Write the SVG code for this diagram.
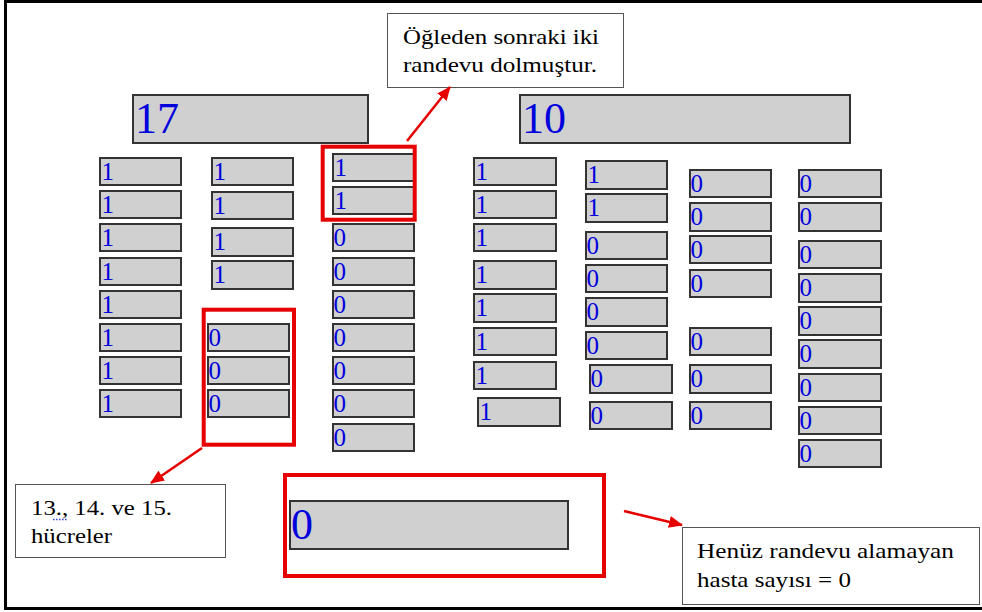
<svg xmlns="http://www.w3.org/2000/svg" width="982" height="612" viewBox="0 0 982 612">
<style>
.cell{fill:#d0d0d0;stroke:#333;stroke-width:2}
.big{fill:#d0d0d0;stroke:#333;stroke-width:2}
.d{font-size:25px;fill:#0000dd}
.bd{font-size:44px;fill:#0000dd}
.red{fill:none;stroke:#e60000;stroke-width:4}
.call{fill:#fff;stroke:#555;stroke-width:1}
.ct{font-size:22px;fill:#000}
.arr{stroke:#e60000;stroke-width:2.5;fill:none;marker-end:url(#ah)}
</style>
<defs>
<marker id="ah" markerUnits="userSpaceOnUse" markerWidth="14" markerHeight="12" refX="13" refY="6" orient="auto">
<path d="M0,0 L14,6 L0,12 Z" fill="#e60000"/>
</marker>
</defs>
<rect x="5.5" y="1.5" width="1000" height="607" fill="#fff" stroke="#000" stroke-width="3"/>

<g id="total1"><rect class="big" x="133" y="95" width="235" height="48"/><text class="bd" font-family="Liberation Serif" x="135" y="133">17</text></g>
<g id="total2"><rect class="big" x="520" y="95" width="330" height="48"/><text class="bd" font-family="Liberation Serif" x="522" y="133">10</text></g>
<g id="remaining"><rect class="big" x="290" y="501" width="278" height="48"/><text class="bd" font-family="Liberation Serif" x="291" y="539">0</text></g>

<g id="c1r1"><rect class="cell" x="100" y="158" width="81" height="27"/><text class="d" font-family="Liberation Serif" x="101.5" y="180">1</text></g>
<g id="c1r2"><rect class="cell" x="100" y="191" width="81" height="27"/><text class="d" font-family="Liberation Serif" x="101.5" y="213">1</text></g>
<g id="c1r3"><rect class="cell" x="100" y="224" width="81" height="27"/><text class="d" font-family="Liberation Serif" x="101.5" y="246">1</text></g>
<g id="c1r4"><rect class="cell" x="100" y="258" width="81" height="27"/><text class="d" font-family="Liberation Serif" x="101.5" y="280">1</text></g>
<g id="c1r5"><rect class="cell" x="100" y="291" width="81" height="27"/><text class="d" font-family="Liberation Serif" x="101.5" y="313">1</text></g>
<g id="c1r6"><rect class="cell" x="100" y="324" width="81" height="27"/><text class="d" font-family="Liberation Serif" x="101.5" y="346">1</text></g>
<g id="c1r7"><rect class="cell" x="100" y="357" width="81" height="27"/><text class="d" font-family="Liberation Serif" x="101.5" y="379">1</text></g>
<g id="c1r8"><rect class="cell" x="100" y="390" width="81" height="27"/><text class="d" font-family="Liberation Serif" x="101.5" y="412">1</text></g>

<g id="c2r1"><rect class="cell" x="212" y="158" width="81" height="27"/><text class="d" font-family="Liberation Serif" x="213.5" y="180">1</text></g>
<g id="c2r2"><rect class="cell" x="212" y="192" width="81" height="27"/><text class="d" font-family="Liberation Serif" x="213.5" y="214">1</text></g>
<g id="c2r3"><rect class="cell" x="212" y="228" width="81" height="28"/><text class="d" font-family="Liberation Serif" x="213.5" y="250">1</text></g>
<g id="c2r4"><rect class="cell" x="212" y="261" width="81" height="28"/><text class="d" font-family="Liberation Serif" x="213.5" y="283">1</text></g>
<g id="c2r5"><rect class="cell" x="208" y="324" width="81" height="27"/><text class="d" font-family="Liberation Serif" x="208.5" y="346">0</text></g>
<g id="c2r6"><rect class="cell" x="208" y="357" width="81" height="27"/><text class="d" font-family="Liberation Serif" x="208.5" y="379">0</text></g>
<g id="c2r7"><rect class="cell" x="208" y="390" width="81" height="27"/><text class="d" font-family="Liberation Serif" x="208.5" y="412">0</text></g>

<g id="c3r1"><rect class="cell" x="333" y="154" width="81" height="27"/><text class="d" font-family="Liberation Serif" x="334.5" y="176">1</text></g>
<g id="c3r2"><rect class="cell" x="333" y="187" width="81" height="27"/><text class="d" font-family="Liberation Serif" x="334.5" y="209">1</text></g>
<g id="c3r3"><rect class="cell" x="333" y="224" width="81" height="27"/><text class="d" font-family="Liberation Serif" x="333.5" y="246">0</text></g>
<g id="c3r4"><rect class="cell" x="333" y="258" width="81" height="27"/><text class="d" font-family="Liberation Serif" x="333.5" y="280">0</text></g>
<g id="c3r5"><rect class="cell" x="333" y="291" width="81" height="27"/><text class="d" font-family="Liberation Serif" x="333.5" y="313">0</text></g>
<g id="c3r6"><rect class="cell" x="333" y="324" width="81" height="27"/><text class="d" font-family="Liberation Serif" x="333.5" y="346">0</text></g>
<g id="c3r7"><rect class="cell" x="333" y="357" width="81" height="27"/><text class="d" font-family="Liberation Serif" x="333.5" y="379">0</text></g>
<g id="c3r8"><rect class="cell" x="333" y="390" width="81" height="27"/><text class="d" font-family="Liberation Serif" x="333.5" y="412">0</text></g>
<g id="c3r9"><rect class="cell" x="333" y="424" width="81" height="27"/><text class="d" font-family="Liberation Serif" x="333.5" y="446">0</text></g>

<g id="c4r1"><rect class="cell" x="474" y="158" width="82" height="27"/><text class="d" font-family="Liberation Serif" x="475.5" y="180">1</text></g>
<g id="c4r2"><rect class="cell" x="474" y="191" width="82" height="27"/><text class="d" font-family="Liberation Serif" x="475.5" y="213">1</text></g>
<g id="c4r3"><rect class="cell" x="474" y="224" width="82" height="27"/><text class="d" font-family="Liberation Serif" x="475.5" y="246">1</text></g>
<g id="c4r4"><rect class="cell" x="474" y="261" width="82" height="28"/><text class="d" font-family="Liberation Serif" x="475.5" y="283">1</text></g>
<g id="c4r5"><rect class="cell" x="474" y="294" width="82" height="28"/><text class="d" font-family="Liberation Serif" x="475.5" y="316">1</text></g>
<g id="c4r6"><rect class="cell" x="474" y="328" width="82" height="27"/><text class="d" font-family="Liberation Serif" x="475.5" y="350">1</text></g>
<g id="c4r7"><rect class="cell" x="474" y="362" width="82" height="27"/><text class="d" font-family="Liberation Serif" x="475.5" y="384">1</text></g>
<g id="c4r8"><rect class="cell" x="478" y="398" width="82" height="28"/><text class="d" font-family="Liberation Serif" x="479.5" y="420">1</text></g>

<g id="c5r1"><rect class="cell" x="586" y="161" width="81" height="28"/><text class="d" font-family="Liberation Serif" x="587.5" y="183">1</text></g>
<g id="c5r2"><rect class="cell" x="586" y="194" width="81" height="28"/><text class="d" font-family="Liberation Serif" x="587.5" y="216">1</text></g>
<g id="c5r3"><rect class="cell" x="586" y="232" width="81" height="27"/><text class="d" font-family="Liberation Serif" x="586.5" y="254">0</text></g>
<g id="c5r4"><rect class="cell" x="586" y="265" width="81" height="27"/><text class="d" font-family="Liberation Serif" x="586.5" y="287">0</text></g>
<g id="c5r5"><rect class="cell" x="586" y="298" width="81" height="28"/><text class="d" font-family="Liberation Serif" x="586.5" y="320">0</text></g>
<g id="c5r6"><rect class="cell" x="586" y="332" width="81" height="27"/><text class="d" font-family="Liberation Serif" x="586.5" y="354">0</text></g>
<g id="c5r7"><rect class="cell" x="590" y="365" width="82" height="28"/><text class="d" font-family="Liberation Serif" x="590.5" y="387">0</text></g>
<g id="c5r8"><rect class="cell" x="590" y="402" width="82" height="27"/><text class="d" font-family="Liberation Serif" x="590.5" y="424">0</text></g>

<g id="c6r1"><rect class="cell" x="690" y="170" width="81" height="27"/><text class="d" font-family="Liberation Serif" x="690.5" y="192">0</text></g>
<g id="c6r2"><rect class="cell" x="690" y="203" width="81" height="28"/><text class="d" font-family="Liberation Serif" x="690.5" y="225">0</text></g>
<g id="c6r3"><rect class="cell" x="690" y="236" width="81" height="27"/><text class="d" font-family="Liberation Serif" x="690.5" y="258">0</text></g>
<g id="c6r4"><rect class="cell" x="690" y="270" width="81" height="27"/><text class="d" font-family="Liberation Serif" x="690.5" y="292">0</text></g>
<g id="c6r5"><rect class="cell" x="690" y="328" width="81" height="27"/><text class="d" font-family="Liberation Serif" x="690.5" y="350">0</text></g>
<g id="c6r6"><rect class="cell" x="690" y="365" width="81" height="28"/><text class="d" font-family="Liberation Serif" x="690.5" y="387">0</text></g>
<g id="c6r7"><rect class="cell" x="690" y="402" width="81" height="27"/><text class="d" font-family="Liberation Serif" x="690.5" y="424">0</text></g>

<g id="c7r1"><rect class="cell" x="799" y="170" width="82" height="27"/><text class="d" font-family="Liberation Serif" x="799.5" y="192">0</text></g>
<g id="c7r2"><rect class="cell" x="799" y="203" width="82" height="28"/><text class="d" font-family="Liberation Serif" x="799.5" y="225">0</text></g>
<g id="c7r3"><rect class="cell" x="799" y="241" width="82" height="27"/><text class="d" font-family="Liberation Serif" x="799.5" y="263">0</text></g>
<g id="c7r4"><rect class="cell" x="799" y="274" width="82" height="28"/><text class="d" font-family="Liberation Serif" x="799.5" y="296">0</text></g>
<g id="c7r5"><rect class="cell" x="799" y="307" width="82" height="28"/><text class="d" font-family="Liberation Serif" x="799.5" y="329">0</text></g>
<g id="c7r6"><rect class="cell" x="799" y="340" width="82" height="28"/><text class="d" font-family="Liberation Serif" x="799.5" y="362">0</text></g>
<g id="c7r7"><rect class="cell" x="799" y="374" width="82" height="27"/><text class="d" font-family="Liberation Serif" x="799.5" y="396">0</text></g>
<g id="c7r8"><rect class="cell" x="799" y="407" width="82" height="27"/><text class="d" font-family="Liberation Serif" x="799.5" y="429">0</text></g>
<g id="c7r9"><rect class="cell" x="799" y="440" width="82" height="27"/><text class="d" font-family="Liberation Serif" x="799.5" y="462">0</text></g>

<g id="highlight1"><rect class="red" x="322.7" y="146.7" width="92" height="73"/></g>
<g id="highlight2"><rect class="red" x="203.7" y="309.7" width="90.3" height="135"/></g>
<g id="highlight3"><rect class="red" x="285" y="475" width="319" height="101"/></g>

<g id="note1"><rect class="call" x="387.5" y="13.5" width="236" height="74"/>
<text class="ct" font-family="Liberation Serif" x="403" y="44" textLength="196" lengthAdjust="spacingAndGlyphs">Öğleden sonraki iki</text>
<text class="ct" font-family="Liberation Serif" x="403" y="72" textLength="194" lengthAdjust="spacingAndGlyphs">randevu dolmuştur.</text></g>

<g id="note2"><rect class="call" x="15.5" y="484.5" width="210" height="73"/>
<text class="ct" font-family="Liberation Serif" x="31" y="515" textLength="141" lengthAdjust="spacingAndGlyphs">13., 14. ve 15.</text>
<text class="ct" font-family="Liberation Serif" x="31" y="543" textLength="81" lengthAdjust="spacingAndGlyphs">hücreler</text>
<path d="M53,519.5 L67,519.5" stroke="#3344cc" stroke-width="1.5" stroke-dasharray="1.5,1.5" fill="none"/></g>

<g id="note3"><rect class="call" x="682.5" y="527.5" width="297" height="77"/>
<text class="ct" font-family="Liberation Serif" x="697" y="558" textLength="257" lengthAdjust="spacingAndGlyphs">Henüz randevu alamayan</text>
<text class="ct" font-family="Liberation Serif" x="697" y="587" textLength="154" lengthAdjust="spacingAndGlyphs">hasta sayısı = 0</text></g>

<g id="connectors">
<line class="arr" x1="407" y1="141" x2="450" y2="87"/>
<line class="arr" x1="202" y1="448" x2="151" y2="483"/>
<line class="arr" x1="624" y1="511" x2="682" y2="525"/>
</g>
</svg>
